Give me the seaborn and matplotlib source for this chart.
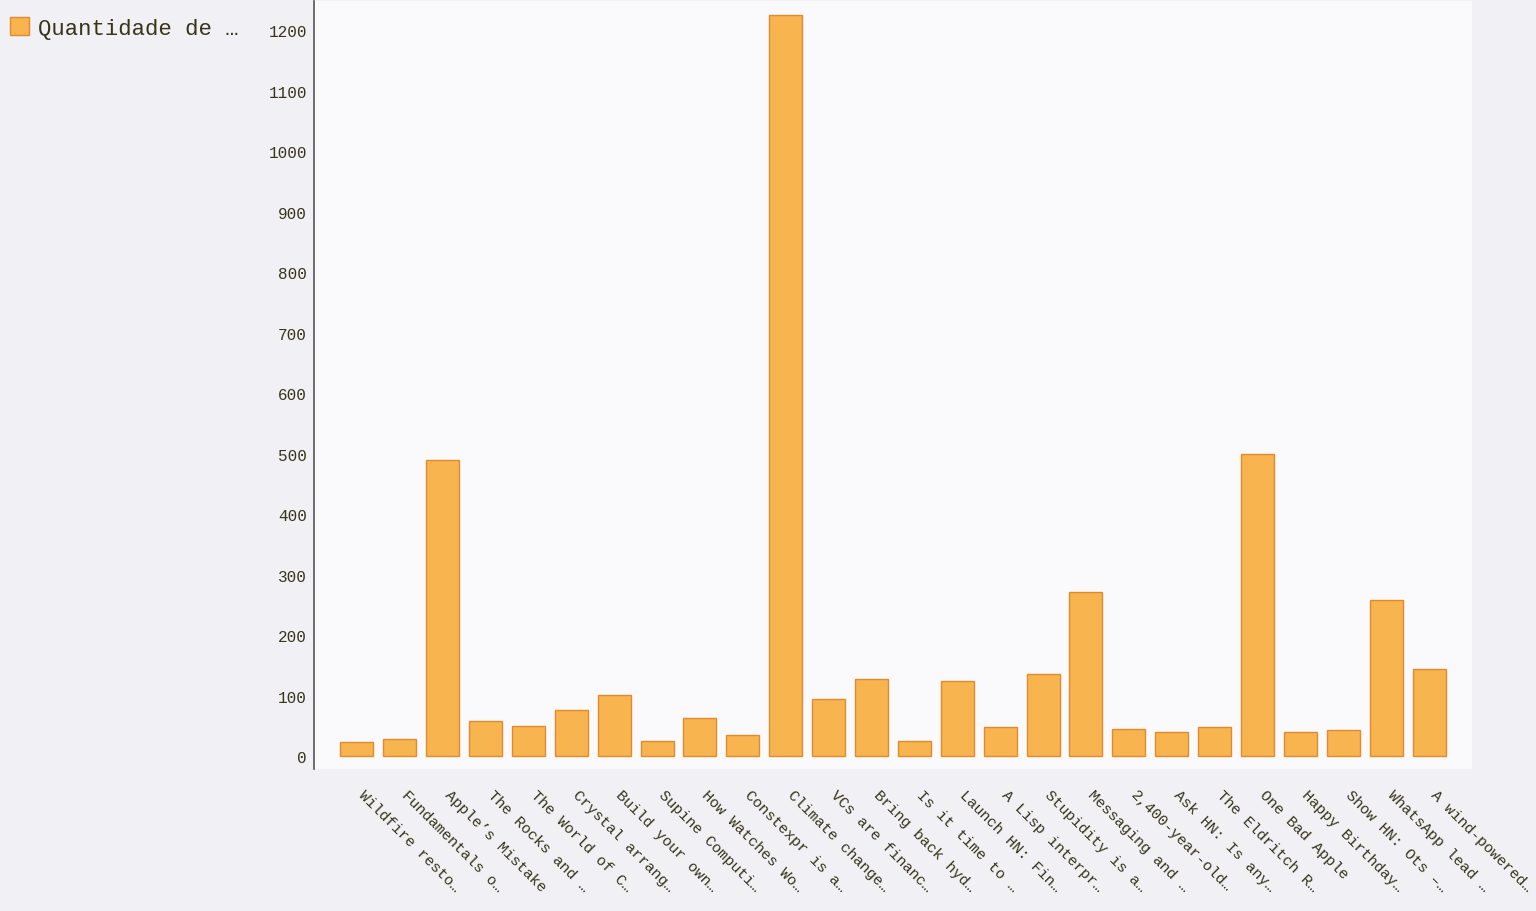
import matplotlib
matplotlib.use("Agg")
import matplotlib.pyplot as plt
import matplotlib.transforms as mtransforms
import seaborn as sns

labels = [
    "Wildfire resto…", "Fundamentals o…", "Apple’s Mistake", "The Rocks and …",
    "The World of C…", "Crystal arrang…", "Build your own…", "Supine Computi…",
    "How Watches Wo…", "Constexpr is a…", "Climate change…", "VCs are financ…",
    "Bring back hyd…", "Is it time to …", "Launch HN: Fin…", "A Lisp interpr…",
    "Stupidity is a…", "Messaging and …", "2,400-year-old…", "Ask HN: Is any…",
    "The Eldritch R…", "One Bad Apple", "Happy Birthday…", "Show HN: Ots –…",
    "WhatsApp lead …", "A wind-powered…",
]
values = [24, 28, 489, 59, 50, 76, 101, 25, 63, 35, 1225, 94, 127, 25, 124, 48,
          136, 271, 45, 40, 48, 499, 40, 43, 258, 144]
series_name = "Quantidade de …"
yticks = [0, 100, 200, 300, 400, 500, 600, 700, 800, 900, 1000, 1100, 1200]

sns.set_style("white")
plt.rcParams["font.family"] = ["Liberation Mono", "DejaVu Sans Mono", "DejaVu Sans"]

text_color = "#38351a"
fig = plt.figure(figsize=(15.36, 9.12), dpi=100, facecolor="#f0f0f5")
ax = fig.add_axes([0.2044, 0.1557, 0.7539, 0.8421])
ax.set_facecolor("#fafafc")

sns.barplot(x=labels, y=values, color="#f7b44f", edgecolor="#e38b2c",
            linewidth=1.0, width=0.77, saturation=1, ax=ax, label=series_name)

ax.set_xlim(-1, 26)
ax.set_ylim(-21, 1248)
ax.set_yticks(yticks)
ax.set_ylabel("")
ax.set_xlabel("")

for side in ["top", "right", "bottom"]:
    ax.spines[side].set_visible(False)
ax.spines["left"].set_color("#555555")
ax.spines["left"].set_linewidth(1.2)

ax.tick_params(axis="y", length=0, pad=5, labelsize=11.5, labelcolor=text_color)
ax.tick_params(axis="x", length=0, pad=13, labelsize=11, labelcolor=text_color)
shift = mtransforms.ScaledTranslation(9 / 100, 0, fig.dpi_scale_trans)
for t in ax.get_xticklabels():
    t.set_rotation(-45)
    t.set_ha("left")
    t.set_va("top")
    t.set_rotation_mode("anchor")
    t.set_transform(t.get_transform() + shift)

handles, lbls = ax.get_legend_handles_labels()
if ax.get_legend() is not None:
    ax.get_legend().remove()
fig.legend(handles, lbls, loc="upper left", bbox_to_anchor=(0.0, 1 - 8 / 912),
           frameon=False, fontsize=16, handlelength=0.85, handleheight=0.85,
           handletextpad=0.4, borderaxespad=0.05, labelcolor=text_color)

fig.savefig("out.png", dpi=100, facecolor=fig.get_facecolor())
plt.close()
